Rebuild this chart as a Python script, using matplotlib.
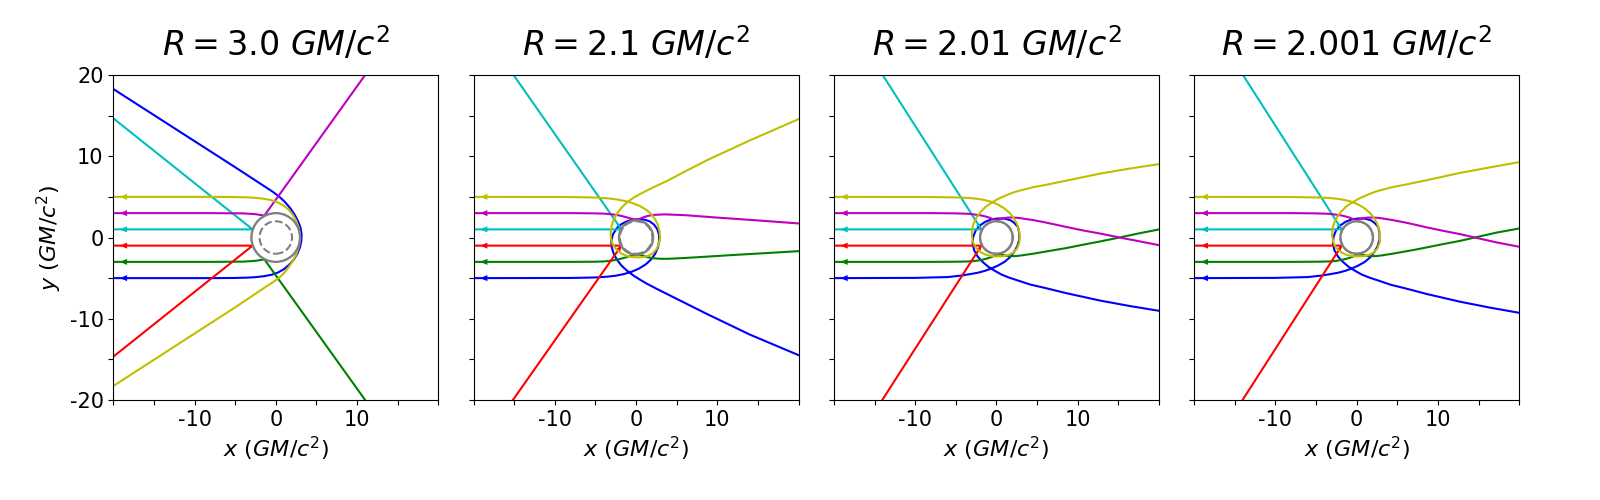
import matplotlib
matplotlib.use('Agg')
import matplotlib.pyplot as plt
import numpy as np
from matplotlib.patches import Circle

# star radii (GM/c^2) and Schwarzschild radius
R_values = [3.0, 2.1, 2.01, 2.001]
r_schw = 2.0
ray_colors = ['y', 'm', 'c', 'r', 'g', 'b']

# rays, (x, y) in GM/c^2, starting at the left edge
# --- R = 3.0
p1_yellow = [(-20, 5.0), (-8, 5.0), (-5, 4.98), (-3.5, 4.94), (-2.5, 4.88), (-1.5, 4.77),
             (-0.5, 4.58), (0.3, 4.3), (1.0, 3.9), (1.6, 3.4), (2.1, 2.8), (2.5, 2.1),
             (2.8, 1.3), (2.95, 0.5), (2.97, -0.3), (2.85, -1.1), (2.55, -2.0), (2.1, -2.9),
             (1.55, -3.7), (0.95, -4.45), (0.3, -5.05), (-0.5, -5.6), (-1.5, -6.25),
             (-5.0, -8.6), (-20, -18.28)]
p1_magenta = [(-20, 3.0), (-8, 3.0), (-4, 2.97), (-2.5, 2.87), (-1.4, 2.7), (11.0, 20)]
p1_cyan = [(-20, 1.0), (-2.85, 1.0), (-20, 14.67)]
p1_red = [(-20, -1.0), (-2.85, -1.0), (-20, -14.67)]
p1_green = [(-20, -3.0), (-8, -3.0), (-4, -2.97), (-2.5, -2.87), (-1.4, -2.7), (11.0, -20)]
p1_blue = [(-20, -5.0), (-8, -5.0), (-5, -4.98), (-3.5, -4.94), (-2.5, -4.88), (-1.5, -4.77),
           (-0.5, -4.58), (0.3, -4.3), (1.0, -3.9), (1.65, -3.35), (2.2, -2.75), (2.65, -2.0),
           (2.98, -1.2), (3.15, -0.4), (3.18, 0.4), (3.05, 1.2), (2.75, 2.0), (2.3, 2.85),
           (1.75, 3.65), (1.1, 4.4), (0.4, 5.05), (-0.4, 5.65), (-1.4, 6.3), (-5.0, 8.65),
           (-20, 18.28)]

# --- R = 2.1
p2_yellow = [(-20, 5.0), (-8, 4.98), (-5, 4.92), (-3.5, 4.82), (-2.5, 4.7), (-1.5, 4.52),
             (-0.5, 4.25), (0.4, 3.9), (1.2, 3.45), (1.85, 2.9), (2.35, 2.25), (2.7, 1.5),
             (2.9, 0.7), (2.95, -0.1), (2.8, -0.85), (2.5, -1.45), (2.05, -1.95), (1.5, -2.25),
             (0.9, -2.4), (0.2, -2.45), (-0.5, -2.4), (-1.2, -2.25), (-1.85, -1.95),
             (-2.45, -1.45), (-2.9, -0.8), (-3.12, -0.05), (-3.12, 0.7), (-3.0, 1.5),
             (-2.75, 2.2), (-2.35, 2.95), (-1.8, 3.65), (-1.1, 4.35), (-0.3, 4.9), (0.5, 5.35),
             (1.35, 5.8), (2.6, 6.4), (3.8, 6.95), (5.4, 7.8), (8.7, 9.5), (14, 11.95),
             (20, 14.57)]
p2_magenta = [(-20, 3.0), (-8, 3.0), (-5, 2.97), (-4, 2.94), (-3, 2.86), (-2.2, 2.74),
              (-1.5, 2.58), (-0.8, 2.38), (-0.3, 2.25), (0.1, 2.22), (0.5, 2.32), (1.0, 2.52),
              (1.5, 2.67), (2.2, 2.78), (3.5, 2.85), (6, 2.75), (10, 2.45), (15, 2.1),
              (20, 1.73)]
p2_cyan = [(-20, 1.0), (-1.8, 1.0), (-15.08, 20)]
p2_red = [(-20, -1.0), (-1.8, -1.0), (-15.16, -20)]
p2_green = [(-20, -3.0), (-8, -3.0), (-5, -2.98), (-4, -2.95), (-3, -2.85), (-2.2, -2.7),
            (-1.5, -2.52), (-0.8, -2.3), (-0.2, -2.12), (0.3, -2.1), (0.8, -2.22),
            (1.4, -2.42), (2.1, -2.55), (3.0, -2.62), (4, -2.62), (6, -2.52), (8, -2.4),
            (12, -2.15), (16, -1.92), (20, -1.68)]
p2_blue = [(-20, -5.0), (-8, -4.98), (-5, -4.92), (-3.5, -4.82), (-2.5, -4.7), (-1.5, -4.5),
           (-0.5, -4.2), (0.4, -3.8), (1.2, -3.3), (1.85, -2.7), (2.35, -2.0), (2.7, -1.2),
           (2.85, -0.4), (2.82, 0.35), (2.6, 1.05), (2.2, 1.6), (1.65, 2.0), (1.0, 2.2),
           (0.3, 2.25), (-0.4, 2.2), (-1.1, 2.0), (-1.8, 1.65), (-2.4, 1.1), (-2.85, 0.4),
           (-3.05, -0.4), (-3.0, -1.2), (-2.75, -2.0), (-2.35, -2.75), (-1.8, -3.45),
           (-1.1, -4.1), (-0.3, -4.7), (0.5, -5.2), (1.35, -5.7), (2.6, -6.35), (3.8, -6.95),
           (5.4, -7.75), (8.7, -9.4), (14, -11.95), (20, -14.48)]

# --- R = 2.01
p3_yellow = [(-20, 5.0), (-8, 4.98), (-5, 4.93), (-3.5, 4.87), (-2.5, 4.78), (-1.5, 4.62),
             (-0.6, 4.39), (0.2, 4.05), (1.0, 3.57), (1.6, 3.05), (2.1, 2.45), (2.5, 1.75),
             (2.78, 0.95), (2.88, 0.15), (2.82, -0.65), (2.55, -1.35), (2.1, -1.85),
             (1.5, -2.15), (0.8, -2.3), (0.1, -2.33), (-0.6, -2.28), (-1.3, -2.12),
             (-1.95, -1.8), (-2.5, -1.3), (-2.88, -0.6), (-3.02, 0.2), (-2.98, 1.1),
             (-2.75, 1.85), (-2.4, 2.55), (-1.9, 3.2), (-1.3, 3.8), (-0.5, 4.35), (0.4, 4.85),
             (1.45, 5.3), (2.2, 5.58), (3.1, 5.83), (4.5, 6.18), (5.95, 6.45), (8.6, 7.0),
             (12.7, 7.85), (16.5, 8.5), (20, 9.03)]
p3_magenta = [(-20, 3.0), (-8, 3.0), (-5, 2.97), (-3.5, 2.92), (-2.67, 2.83), (-1.8, 2.7),
              (-1.03, 2.5), (-0.4, 2.25), (0, 2.13), (0.35, 2.25), (0.8, 2.38), (1.4, 2.45),
              (1.85, 2.46), (2.5, 2.43), (3.08, 2.36), (4.5, 2.15), (5.95, 1.87), (7.3, 1.58),
              (8.6, 1.3), (10.6, 0.88), (12.7, 0.5), (15.16, 0.0), (17.5, -0.45), (20, -0.94)]
p3_cyan = [(-20, 1.0), (-1.85, 1.0), (-14.0, 20)]
p3_red = [(-20, -1.0), (-1.85, -1.0), (-14.05, -20)]
p3_green = [(-20, -3.0), (-8, -3.0), (-5, -2.98), (-3.5, -2.95), (-2.67, -2.9), (-1.8, -2.75),
            (-1.2, -2.6), (-0.6, -2.4), (-0.2, -2.22), (0.2, -2.1), (0.6, -2.12),
            (1.2, -2.25), (1.85, -2.3), (2.5, -2.28), (3.1, -2.2), (4.5, -2.0), (5.95, -1.75),
            (7.3, -1.52), (8.6, -1.3), (10.6, -0.9), (12.7, -0.5), (15.16, 0.0), (17.5, 0.5),
            (20, 0.99)]
p3_blue = [(-20, -5.0), (-10, -4.97), (-6, -4.87), (-4.3, -4.68), (-3.2, -4.5), (-2.26, -4.33),
           (-1.4, -4.1), (-0.62, -3.82), (0.2, -3.45), (1.0, -3.0), (1.65, -2.45), (2.2, -1.75),
           (2.6, -1.0), (2.82, -0.2), (2.8, 0.6), (2.65, 1.3), (2.2, 1.8), (1.75, 2.12),
           (1.0, 2.32), (0.2, 2.34), (-0.6, 2.24), (-1.4, 1.92), (-2.05, 1.45), (-2.55, 0.85),
           (-2.85, 0.1), (-2.93, -0.7), (-2.75, -1.55), (-2.3, -2.35), (-1.7, -3.0),
           (-1.0, -3.6), (-0.2, -4.1), (0.6, -4.55), (1.6, -4.95), (2.67, -5.3), (4.2, -5.8),
           (5.95, -6.2), (8.6, -6.85), (12.7, -7.75), (16.5, -8.45), (20, -9.02)]

# --- R = 2.001
p4_yellow = [(-20, 5.0), (-8, 4.98), (-5, 4.93), (-3.5, 4.87), (-2.5, 4.78), (-1.5, 4.62),
             (-0.6, 4.39), (0.2, 4.05), (1.0, 3.57), (1.6, 3.05), (2.1, 2.45), (2.5, 1.75),
             (2.78, 0.95), (2.88, 0.15), (2.82, -0.65), (2.55, -1.35), (2.1, -1.85),
             (1.5, -2.15), (0.8, -2.3), (0.1, -2.33), (-0.6, -2.28), (-1.3, -2.12),
             (-1.95, -1.8), (-2.5, -1.3), (-2.88, -0.6), (-3.02, 0.2), (-2.98, 1.1),
             (-2.75, 1.85), (-2.4, 2.55), (-1.9, 3.2), (-1.3, 3.8), (-0.5, 4.35), (0.4, 4.85),
             (1.45, 5.3), (2.2, 5.6), (3.1, 5.87), (4.5, 6.22), (5.95, 6.5), (8.6, 7.05),
             (12.7, 7.95), (16.5, 8.65), (20, 9.28)]
p4_magenta = [(-20, 3.0), (-8, 3.0), (-5, 2.97), (-3.5, 2.92), (-2.67, 2.83), (-1.8, 2.7),
              (-1.03, 2.5), (-0.4, 2.25), (0, 2.13), (0.35, 2.25), (0.8, 2.38), (1.4, 2.45),
              (1.85, 2.46), (2.5, 2.43), (3.08, 2.36), (4.5, 2.13), (5.95, 1.85), (7.3, 1.55),
              (8.6, 1.25), (10.6, 0.83), (12.7, 0.42), (14.54, 0.0), (17.2, -0.6), (20, -1.14)]
p4_cyan = [(-20, 1.0), (-1.85, 1.0), (-14.0, 20)]
p4_red = [(-20, -1.0), (-1.85, -1.0), (-14.05, -20)]
p4_green = [(-20, -3.0), (-8, -3.0), (-5, -2.98), (-3.5, -2.95), (-2.67, -2.9), (-1.8, -2.75),
            (-1.2, -2.6), (-0.6, -2.4), (-0.2, -2.22), (0.2, -2.1), (0.6, -2.12),
            (1.2, -2.25), (1.85, -2.3), (2.5, -2.28), (3.1, -2.2), (4.5, -1.98), (5.95, -1.72),
            (7.3, -1.48), (8.6, -1.22), (10.6, -0.82), (12.7, -0.42), (14.54, 0.0), (17.2, 0.6),
            (20, 1.11)]
p4_blue = [(-20, -5.0), (-10, -4.97), (-6, -4.87), (-4.3, -4.68), (-3.2, -4.5), (-2.26, -4.33),
           (-1.4, -4.1), (-0.62, -3.82), (0.2, -3.45), (1.0, -3.0), (1.65, -2.45), (2.2, -1.75),
           (2.6, -1.0), (2.82, -0.2), (2.8, 0.6), (2.65, 1.3), (2.2, 1.8), (1.75, 2.12),
           (1.0, 2.32), (0.2, 2.34), (-0.6, 2.24), (-1.4, 1.92), (-2.05, 1.45), (-2.55, 0.85),
           (-2.85, 0.1), (-2.93, -0.7), (-2.75, -1.55), (-2.3, -2.35), (-1.7, -3.0),
           (-1.0, -3.6), (-0.2, -4.1), (0.6, -4.55), (1.6, -4.95), (2.67, -5.3), (4.2, -5.82),
           (5.95, -6.25), (8.6, -6.95), (12.7, -7.9), (16.5, -8.65), (20, -9.27)]

panels = [
    [p1_yellow, p1_magenta, p1_cyan, p1_red, p1_green, p1_blue],
    [p2_yellow, p2_magenta, p2_cyan, p2_red, p2_green, p2_blue],
    [p3_yellow, p3_magenta, p3_cyan, p3_red, p3_green, p3_blue],
    [p4_yellow, p4_magenta, p4_cyan, p4_red, p4_green, p4_blue],
]

ticks = list(range(-20, 21, 5))
xtick_labels = ['', '', '-10', '', '0', '', '10', '', '']
ytick_labels = ['-20', '', '-10', '', '0', '', '10', '', '20']

fig, axes = plt.subplots(1, 4, figsize=(16, 5), sharey=True)
fig.subplots_adjust(left=0.0708, right=0.9495, bottom=0.2, top=0.85, wspace=0.1087)

for ax, R, rays in zip(axes, R_values, panels):
    # blue first, yellow last (yellow sits on top)
    for color, pts in reversed(list(zip(ray_colors, rays))):
        xs = [p[0] for p in pts]
        ys = [p[1] for p in pts]
        ax.plot(xs, ys, color=color, lw=1.5)
        # arrow head on the incoming horizontal part
        ax.arrow(xs[0] + 1.7, ys[0], -0.9, 0, head_width=0.75, head_length=0.9,
                 length_includes_head=True, color=color, lw=0)
        # small arrow where the reflected rays meet the star
        if R < 3 and color in ('c', 'r'):
            d = np.array([xs[1] - xs[2], ys[1] - ys[2]])
            d = d / np.hypot(*d) * 0.8
            ax.arrow(xs[1] - d[0], ys[1] - d[1], d[0], d[1], head_width=0.6,
                     head_length=0.7, length_includes_head=True, color=color, lw=0)

    ax.add_patch(Circle((0, 0), R, fill=False, ec='gray', lw=1.7, zorder=3))
    ax.add_patch(Circle((0, 0), r_schw, fill=False, ec='gray', lw=1.5, ls='--', zorder=3))

    ax.set_xlim(-20, 20)
    ax.set_ylim(-20, 20)
    ax.set_aspect('equal')
    ax.set_xticks(ticks)
    ax.set_xticklabels(xtick_labels, fontsize=15)
    ax.set_title(r'$R = %s\ GM/c^2$' % R, fontsize=24, pad=14)
    ax.set_xlabel(r'$x\ (GM/c^2)$', fontsize=16)

axes[0].set_yticks(ticks)
axes[0].set_yticklabels(ytick_labels, fontsize=15)
axes[0].set_ylabel(r'$y\ (GM/c^2)$', fontsize=16)

plt.savefig('out.png', dpi=100)
plt.close()
